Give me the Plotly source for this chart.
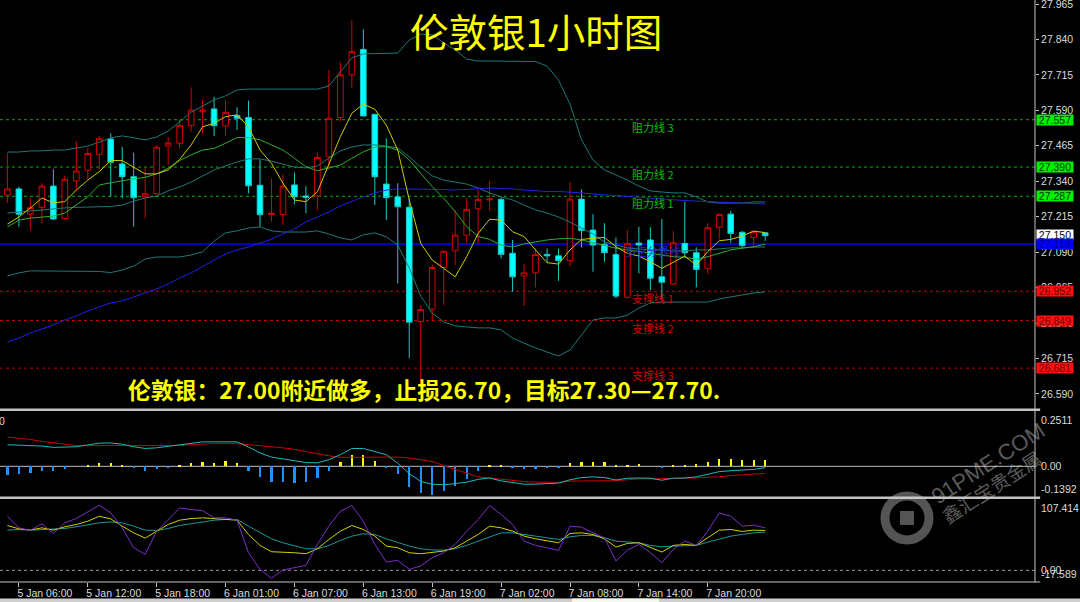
import plotly.graph_objects as go

# ---------------- data ----------------
opens = [27.291, 27.313, 27.224, 27.248, 27.323, 27.209, 27.341, 27.379, 27.435, 27.489,
         27.401, 27.356, 27.285, 27.296, 27.464, 27.474, 27.537, 27.585, 27.595, 27.535,
         27.572, 27.565, 27.326, 27.223, 27.223, 27.327, 27.288, 27.288, 27.426, 27.565,
         27.715, 27.805, 27.576, 27.330, 27.285, 27.248, 26.845, 26.889, 27.036, 27.095,
         27.150, 27.243, 27.274, 27.276, 27.086, 27.006, 27.017, 27.082, 27.077, 27.060,
         27.277, 27.168, 27.118, 27.082, 26.931, 27.122, 27.133, 27.003, 26.978, 27.121,
         27.088, 27.033, 27.178, 27.224, 27.160, 27.142, 27.158]
highs = [27.440, 27.321, 27.283, 27.333, 27.382, 27.358, 27.483, 27.458, 27.501, 27.509,
         27.462, 27.441, 27.388, 27.468, 27.497, 27.556, 27.671, 27.626, 27.638, 27.624,
         27.601, 27.624, 27.417, 27.350, 27.364, 27.371, 27.323, 27.441, 27.732, 27.761,
         27.908, 27.876, 27.576, 27.491, 27.333, 27.280, 26.904, 27.045, 27.097, 27.239,
         27.280, 27.315, 27.342, 27.283, 27.133, 27.048, 27.103, 27.103, 27.103, 27.336,
         27.312, 27.224, 27.192, 27.142, 27.168, 27.180, 27.178, 27.207, 27.165, 27.268,
         27.107, 27.192, 27.227, 27.236, 27.165, 27.168, 27.158]
lows = [27.263, 27.180, 27.168, 27.192, 27.203, 27.207, 27.309, 27.344, 27.382, 27.285,
        27.280, 27.180, 27.209, 27.294, 27.397, 27.456, 27.515, 27.509, 27.499, 27.499,
        27.521, 27.297, 27.180, 27.197, 27.186, 27.259, 27.227, 27.238, 27.382, 27.550,
        27.668, 27.570, 27.256, 27.203, 26.980, 26.716, 26.620, 26.845, 26.904, 27.045,
        27.121, 27.121, 27.235, 27.068, 26.950, 26.901, 26.966, 27.053, 26.989, 27.041,
        27.107, 27.021, 27.056, 26.927, 26.927, 27.015, 26.956, 26.921, 26.974, 27.074,
        26.966, 27.013, 27.135, 27.123, 27.103, 27.103, 27.130]
closes = [27.313, 27.224, 27.247, 27.323, 27.207, 27.347, 27.376, 27.438, 27.490, 27.407,
          27.356, 27.282, 27.296, 27.460, 27.475, 27.537, 27.591, 27.591, 27.536, 27.583,
          27.562, 27.324, 27.222, 27.227, 27.323, 27.285, 27.283, 27.424, 27.562, 27.715,
          27.797, 27.570, 27.356, 27.282, 27.250, 26.843, 26.888, 27.036, 27.093, 27.150,
          27.241, 27.276, 27.277, 27.082, 27.003, 27.017, 27.082, 27.077, 27.060, 27.277,
          27.166, 27.115, 27.088, 26.935, 27.121, 27.115, 26.998, 26.984, 27.123, 27.088,
          27.029, 27.176, 27.223, 27.156, 27.113, 27.162, 27.148]

bb_upper = [27.443, 27.443, 27.447, 27.447, 27.450, 27.450, 27.457, 27.464, 27.478, 27.493,
            27.500, 27.493, 27.486, 27.496, 27.517, 27.549, 27.584, 27.605, 27.627, 27.641,
            27.662, 27.665, 27.665, 27.665, 27.665, 27.665, 27.665, 27.665, 27.676, 27.725,
            27.775, 27.789, 27.791, 27.791, 27.792, 27.838, 27.859, 27.856, 27.828, 27.803,
            27.771, 27.764, 27.764, 27.764, 27.764, 27.764, 27.762, 27.746, 27.697, 27.612,
            27.486, 27.415, 27.380, 27.362, 27.344, 27.323, 27.306, 27.302, 27.299, 27.299,
            27.285, 27.267, 27.263, 27.263, 27.263, 27.267, 27.267]
bb_middle = [27.228, 27.232, 27.235, 27.239, 27.242, 27.246, 27.248, 27.249, 27.249, 27.251,
             27.256, 27.270, 27.281, 27.288, 27.306, 27.320, 27.337, 27.359, 27.380, 27.394,
             27.408, 27.419, 27.419, 27.411, 27.401, 27.390, 27.387, 27.394, 27.422, 27.447,
             27.461, 27.468, 27.468, 27.464, 27.457, 27.426, 27.390, 27.359, 27.344, 27.337,
             27.330, 27.316, 27.299, 27.285, 27.274, 27.256, 27.239, 27.228, 27.214, 27.196,
             27.175, 27.154, 27.126, 27.115, 27.105, 27.101, 27.098, 27.098, 27.094, 27.094,
             27.098, 27.098, 27.101, 27.105, 27.105, 27.108, 27.108]
bb_lower = [27.006, 27.017, 27.024, 27.024, 27.022, 27.022, 27.022, 27.022, 27.022, 27.018,
            27.027, 27.041, 27.066, 27.073, 27.073, 27.073, 27.080, 27.091, 27.129, 27.158,
            27.165, 27.175, 27.179, 27.165, 27.161, 27.161, 27.161, 27.165, 27.154, 27.140,
            27.133, 27.151, 27.158, 27.144, 27.115, 27.034, 26.935, 26.875, 26.844, 26.830,
            26.826, 26.823, 26.823, 26.816, 26.787, 26.770, 26.752, 26.738, 26.724, 26.745,
            26.798, 26.851, 26.858, 26.858, 26.868, 26.893, 26.911, 26.914, 26.914, 26.914,
            26.914, 26.914, 26.925, 26.932, 26.939, 26.946, 26.950]
ma_fast = [27.189, 27.214, 27.246, 27.281, 27.264, 27.268, 27.309, 27.344, 27.374, 27.413,
           27.413, 27.391, 27.366, 27.366, 27.380, 27.417, 27.468, 27.532, 27.544, 27.568,
           27.574, 27.532, 27.450, 27.403, 27.333, 27.274, 27.268, 27.303, 27.403, 27.497,
           27.580, 27.612, 27.594, 27.538, 27.450, 27.274, 27.121, 27.062, 27.033, 27.003,
           27.074, 27.156, 27.206, 27.203, 27.162, 27.145, 27.098, 27.053, 27.048, 27.098,
           27.135, 27.139, 27.142, 27.109, 27.086, 27.076, 27.056, 27.033, 27.056, 27.076,
           27.044, 27.092, 27.130, 27.135, 27.147, 27.164, 27.159]
ma_mid = [27.179, 27.203, 27.210, 27.214, 27.217, 27.228, 27.256, 27.285, 27.327, 27.335,
          27.342, 27.348, 27.354, 27.366, 27.386, 27.413, 27.433, 27.450, 27.456, 27.474,
          27.494, 27.494, 27.486, 27.468, 27.450, 27.421, 27.391, 27.377, 27.386, 27.397,
          27.421, 27.444, 27.460, 27.462, 27.450, 27.415, 27.368, 27.321, 27.280, 27.233,
          27.180, 27.145, 27.135, 27.115, 27.108, 27.119, 27.126, 27.133, 27.137, 27.139,
          27.133, 27.123, 27.115, 27.104, 27.098, 27.092, 27.086, 27.080, 27.074, 27.072,
          27.065, 27.074, 27.086, 27.098, 27.104, 27.109, 27.118]
ma_slow = [26.773, 26.787, 26.805, 26.819, 26.833, 26.851, 26.865, 26.883, 26.897, 26.911,
           26.918, 26.932, 26.946, 26.960, 26.978, 26.999, 27.017, 27.041, 27.062, 27.084,
           27.098, 27.108, 27.122, 27.136, 27.154, 27.172, 27.196, 27.214, 27.232, 27.253,
           27.270, 27.285, 27.299, 27.309, 27.313, 27.313, 27.313, 27.313, 27.311, 27.309,
           27.311, 27.314, 27.316, 27.314, 27.313, 27.309, 27.306, 27.304, 27.304, 27.302,
           27.299, 27.295, 27.292, 27.288, 27.285, 27.283, 27.281, 27.278, 27.274, 27.272,
           27.270, 27.269, 27.267, 27.265, 27.263, 27.262, 27.260]

macd_hist = [-0.038, -0.036, -0.030, -0.020, -0.023, -0.011, 0.0, 0.006, 0.017, 0.014,
             0.006, -0.009, -0.020, -0.014, -0.009, 0.005, 0.016, 0.020, 0.017, 0.022,
             0.014, -0.020, -0.050, -0.072, -0.072, -0.077, -0.072, -0.053, -0.023, 0.020,
             0.053, 0.052, 0.023, -0.009, -0.033, -0.094, -0.123, -0.128, -0.114, -0.091,
             -0.056, -0.022, 0.005, 0.006, -0.009, -0.012, -0.012, -0.009, -0.009, 0.014,
             0.021, 0.021, 0.021, 0.006, 0.008, 0.011, 0.0, -0.009, 0.005, 0.008,
             0.009, 0.021, 0.035, 0.035, 0.030, 0.030, 0.029]
macd_main = [0.098, 0.097, 0.095, 0.092, 0.086, 0.086, 0.089, 0.097, 0.105, 0.106,
             0.100, 0.089, 0.081, 0.084, 0.091, 0.097, 0.103, 0.111, 0.111, 0.111,
             0.111, 0.088, 0.061, 0.042, 0.034, 0.027, 0.017, 0.016, 0.030, 0.053,
             0.081, 0.081, 0.066, 0.053, 0.014, -0.033, -0.069, -0.081, -0.084, -0.078,
             -0.072, -0.059, -0.053, -0.066, -0.075, -0.081, -0.081, -0.077, -0.076, -0.061,
             -0.051, -0.048, -0.051, -0.062, -0.054, -0.053, -0.054, -0.063, -0.054, -0.053,
             -0.048, -0.036, -0.024, -0.020, -0.018, -0.014, -0.006]
macd_signal = [0.133, 0.128, 0.122, 0.113, 0.106, 0.098, 0.094, 0.094, 0.095, 0.095,
               0.095, 0.094, 0.094, 0.094, 0.094, 0.095, 0.098, 0.102, 0.103, 0.103,
               0.103, 0.098, 0.094, 0.089, 0.084, 0.077, 0.067, 0.056, 0.048, 0.041,
               0.041, 0.042, 0.042, 0.042, 0.042, 0.038, 0.030, 0.022, 0.003, -0.013,
               -0.031, -0.048, -0.053, -0.059, -0.064, -0.069, -0.072, -0.073, -0.073, -0.067,
               -0.067, -0.067, -0.067, -0.065, -0.061, -0.057, -0.057, -0.057, -0.056, -0.054,
               -0.053, -0.051, -0.047, -0.042, -0.039, -0.036, -0.032]

kdj_j = [81.5, 64, 60, 70, 55.5, 71.5, 78, 87.5, 98, 86.5,
         64, 34, 24, 59, 76.5, 94, 91.5, 90, 79, 79,
         75.5, 26.5, 1.5, -12, 0.5, 4, 7.5, 39, 66.5, 89,
         97.5, 74, 39, 12.5, 15, 1.5, 6.5, 19, 26.5, 39,
         59, 76.5, 97.5, 84, 69, 44, 37.5, 34, 30, 66.5,
         65, 56.5, 49, 14, 30.5, 39, 26.5, 11.5, 31.5, 44,
         37.5, 59, 86.5, 81.5, 66.5, 68, 64]
kdj_k = [67.5, 62.5, 60.5, 64, 60.5, 65.5, 69, 74, 81.5, 77.5,
         66.5, 56.5, 48.5, 59, 69, 75.5, 78, 79, 77.5, 76.5,
         75.5, 54, 37.5, 28, 27.5, 26.5, 25, 32.5, 46.5, 59,
         67.5, 61.5, 51.5, 36.5, 34, 26.5, 25, 26.5, 29, 34,
         44, 54, 66.5, 64, 59, 51.5, 47.5, 45, 41.5, 55.5,
         56.5, 54, 47.5, 35, 40.5, 41.5, 34, 27.5, 37.5, 39,
         37.5, 49, 60.5, 61.5, 58.5, 60.5, 60]
kdj_d = [60.5, 61.5, 60.5, 61.5, 61.5, 63, 65.5, 68.5, 71.5, 73,
         71.5, 66.5, 60.5, 60, 63, 67.5, 70.5, 73, 75.5, 76.5,
         76.5, 66.5, 56.5, 47.5, 41.5, 36.5, 32.5, 32.5, 37.5, 45,
         51.5, 55, 54, 47.5, 41.5, 36.5, 32.5, 30.5, 30.5, 32.5,
         37.5, 44, 50.5, 56.5, 56.5, 54, 52.5, 50, 46.5, 50.5,
         52.5, 52.5, 49, 44, 42.5, 41.5, 37.5, 35.5, 36.5, 36.5,
         37.5, 42.5, 47.5, 51.5, 54, 56.5, 57.5]

tick_bars = [1, 7, 13, 19, 25, 31, 37, 43, 49, 55, 61]
tick_labels = ["5 Jan 06:00", "5 Jan 12:00", "5 Jan 18:00", "6 Jan 01:00", "6 Jan 07:00",
               "6 Jan 13:00", "6 Jan 19:00", "7 Jan 02:00", "7 Jan 08:00", "7 Jan 14:00",
               "7 Jan 20:00"]
price_ticks = [27.965, 27.840, 27.715, 27.590, 27.465, 27.340, 27.215, 27.090,
               26.965, 26.840, 26.715, 26.590]
resistance_levels = [27.557, 27.390, 27.287]
resistance_names = ["阻力线 3", "阻力线 2", "阻力线 1"]
support_levels = [26.952, 26.849, 26.681]
support_names = ["支撑线 1", "支撑线 2", "支撑线 3"]
pivot_level = 27.119
pivot_name = "多空分界线"
last_price = 27.150
macd_labels = [(0.2511, "0.2511"), (0.0, "0.00"), (-0.1392, "-0.1392")]
kdj_labels = [(107.414, "107.414"), (0.0, "0.00"), (-17.589, "-17.589")]

title_text = "伦敦银1小时图"
advice_text = "伦敦银：27.00附近做多，止损26.70，目标27.30—27.70."

# ---------------- figure ----------------
x = list(range(len(opens)))
XR = [-0.645, 89.5]
AX_FONT = dict(family="Liberation Sans, Arial, sans-serif", size=10.5, color="#dcdcdc")
CJK = "Noto Sans CJK SC, sans-serif"
BB_COL = "#237676"

fig = go.Figure()

fig.add_trace(go.Candlestick(
    x=x, open=opens, high=highs, low=lows, close=closes,
    increasing=dict(line=dict(color="#d40000", width=1), fillcolor="#000000"),
    decreasing=dict(line=dict(color="#1ec8c8", width=1), fillcolor="#00ffff"),
    xaxis="x", yaxis="y", hoverinfo="skip"))

for series, col in [(bb_upper, BB_COL), (bb_middle, BB_COL), (bb_lower, BB_COL),
                    (ma_slow, "#2222e6"), (ma_mid, "#2bb02b"), (ma_fast, "#cccc00")]:
    fig.add_trace(go.Scatter(x=x, y=series, mode="lines", line=dict(color=col, width=1),
                             xaxis="x", yaxis="y", hoverinfo="skip"))

fig.add_trace(go.Bar(x=x, y=macd_hist, width=0.2,
                     marker=dict(color=["#ffff00" if v >= 0 else "#1e90ff" for v in macd_hist],
                                 line=dict(width=0)),
                     xaxis="x2", yaxis="y2", hoverinfo="skip"))
fig.add_trace(go.Scatter(x=x, y=macd_signal, mode="lines", line=dict(color="#c80000", width=1),
                         xaxis="x2", yaxis="y2", hoverinfo="skip"))
fig.add_trace(go.Scatter(x=x, y=macd_main, mode="lines", line=dict(color="#20b8b8", width=1),
                         xaxis="x2", yaxis="y2", hoverinfo="skip"))

for series, col in [(kdj_d, "#1a9898"), (kdj_k, "#d0d000"), (kdj_j, "#7a30c8")]:
    fig.add_trace(go.Scatter(x=x, y=series, mode="lines", line=dict(color=col, width=1),
                             xaxis="x3", yaxis="y3", hoverinfo="skip"))

shapes = []
for lv in resistance_levels:
    shapes.append(dict(type="line", xref="paper", x0=0, x1=1, yref="y", y0=lv, y1=lv,
                       line=dict(color="#00b000", width=1, dash="dot"), layer="below"))
for lv in support_levels:
    shapes.append(dict(type="line", xref="paper", x0=0, x1=1, yref="y", y0=lv, y1=lv,
                       line=dict(color="#c00000", width=1, dash="dot"), layer="below"))
shapes.append(dict(type="line", xref="paper", x0=0, x1=1, yref="y", y0=pivot_level, y1=pivot_level,
                   line=dict(color="#0000ff", width=1.5), layer="below"))
shapes.append(dict(type="line", xref="paper", x0=0, x1=1, yref="y2", y0=0, y1=0,
                   line=dict(color="#bdbdbd", width=1), layer="below"))
shapes.append(dict(type="line", xref="paper", x0=0, x1=1, yref="y3", y0=0, y1=0,
                   line=dict(color="#9a9a9a", width=1, dash="dot"), layer="below"))
# panel separators / borders
for yy, w in [(0.29605, 2.5), (0.14485, 2.5), (0.0, 1.2)]:
    shapes.append(dict(type="line", xref="paper", x0=0, x1=1.005, yref="paper", y0=yy, y1=yy,
                       line=dict(color="#c4c4c4", width=w)))
shapes.append(dict(type="line", xref="paper", x0=1, x1=1, yref="paper", y0=0, y1=1,
                   line=dict(color="#c4c4c4", width=1)))
# bottom status strip
shapes.append(dict(type="rect", xref="paper", x0=-0.01, x1=1.05, yref="paper", y0=-0.0345, y1=-0.0285,
                   line=dict(width=0), fillcolor="#cfcfcf"))
shapes.append(dict(type="rect", xref="paper", x0=0.5527, x1=0.6367, yref="paper", y0=-0.0345, y1=-0.0285,
                   line=dict(width=0), fillcolor="#f4f8f0"))
# watermark logo ring
shapes.append(dict(type="circle", xref="paper", yref="paper",
                   x0=(907 - 22) / 1035, x1=(907 + 22) / 1035,
                   y0=(582 - 518 - 22) / 582, y1=(582 - 518 + 22) / 582,
                   line=dict(color="rgba(200,200,200,0.42)", width=9)))
shapes.append(dict(type="rect", xref="paper", yref="paper",
                   x0=(907 - 7) / 1035, x1=(907 + 7) / 1035,
                   y0=(582 - 518 - 7) / 582, y1=(582 - 518 + 7) / 582,
                   line=dict(width=0), fillcolor="rgba(200,200,200,0.42)"))

ann = []
ann.append(dict(text=title_text, xref="paper", yref="paper", x=0.5179, y=0.948,
                xanchor="center", yanchor="middle",
                showarrow=False, font=dict(family=CJK, size=38.5, color="#ffff00")))
ann.append(dict(text="<b>" + advice_text + "</b>", xref="paper", yref="paper", x=0.4097, y=0.3316,
                xanchor="center", yanchor="middle",
                showarrow=False, font=dict(family=CJK, size=22.8, color="#ffff00")))
name_x = 54.2
for lv, nm in zip(resistance_levels, resistance_names):
    ann.append(dict(text=nm, x=name_x, y=lv, xref="x", yref="y", xanchor="left", yanchor="top",
                    yshift=3, showarrow=False, font=dict(family=CJK, size=11, color="#00c000")))
for lv, nm in zip(support_levels, support_names):
    ann.append(dict(text=nm, x=name_x, y=lv, xref="x", yref="y", xanchor="left", yanchor="top",
                    yshift=3, showarrow=False, font=dict(family=CJK, size=11, color="#d40000")))
ann.append(dict(text=pivot_name, x=53.6, y=pivot_level, xref="x", yref="y", xanchor="left",
                yanchor="top", yshift=3, showarrow=False,
                font=dict(family=CJK, size=11, color="#2828c8")))

def price_box(val, bg, fg):
    return dict(text=f"{val:.3f}", x=1, y=val, xref="paper", yref="y", xanchor="left",
                yanchor="middle", xshift=1, showarrow=False, bgcolor=bg, borderpad=0,
                width=36, height=10, align="center",
                font=dict(family="Liberation Sans, Arial, sans-serif", size=10.5, color=fg))

for lv in resistance_levels:
    ann.append(price_box(lv, "#00f000", "#003300"))
for lv in support_levels:
    ann.append(price_box(lv, "#ff1010", "#700000"))
ann.append(price_box(last_price, "#ffffff", "#000000"))
ann.append(price_box(pivot_level, "#0000ff", "#000090"))

anchors = ["top", "middle", "bottom"]
for (v, t), a in zip(macd_labels, anchors):
    ann.append(dict(text=t, x=1, y=v, xref="paper", yref="y2", xanchor="left", yanchor=a,
                    xshift=4, yshift=(-1 if a == "top" else 0), showarrow=False, font=AX_FONT))
for (v, t), a in zip(kdj_labels, ["top", "middle", "bottom"]):
    ann.append(dict(text=t, x=1, y=v, xref="paper", yref="y3", xanchor="left", yanchor=a,
                    xshift=4, yshift=(-1 if a == "top" else 0), showarrow=False, font=AX_FONT))
ann.append(dict(text="0", x=0, y=0.2511, xref="paper", yref="y2", xanchor="left", yanchor="top",
                xshift=-3, yshift=-2, showarrow=False, font=AX_FONT))
# watermark text
ann.append(dict(text="91PME.COM", xref="paper", yref="paper", x=988 / 1035, y=(582 - 463) / 582,
                xanchor="center", yanchor="middle", showarrow=False, textangle=-33,
                font=dict(family="Liberation Sans, Arial", size=22, color="rgba(205,205,205,0.45)")))
ann.append(dict(text="鑫汇宝贵金属", xref="paper", yref="paper", x=991 / 1035, y=(582 - 486) / 582,
                xanchor="center", yanchor="middle", showarrow=False, textangle=-33,
                font=dict(family=CJK, size=19, color="rgba(205,205,205,0.45)")))

common_x = dict(range=XR, showgrid=False, zeroline=False, showline=False, fixedrange=True)
fig.update_layout(
    width=1080, height=602,
    margin=dict(l=0, r=45, t=0, b=20, pad=0, autoexpand=False),
    paper_bgcolor="#000000", plot_bgcolor="#000000",
    showlegend=False, bargap=0,
    xaxis=dict(**common_x, anchor="y", showticklabels=False, ticks="",
               rangeslider=dict(visible=False)),
    xaxis2=dict(**common_x, anchor="y2", matches="x", showticklabels=False, ticks=""),
    xaxis3=dict(**common_x, anchor="y3", matches="x", tickmode="array", tickvals=tick_bars,
                ticktext=tick_labels, ticks="outside", ticklen=4, tickcolor="#c4c4c4",
                tickfont=AX_FONT, ticklabelshift=26, ticklabelstandoff=-3, automargin=False,
                ticklabeloverflow="allow"),
    yaxis=dict(domain=[0.29897, 1], range=[26.5405, 27.9791], side="right", anchor="x",
               tickmode="array", tickvals=price_ticks, ticktext=[f"{v:.3f}" for v in price_ticks],
               ticks="outside", ticklen=3, tickcolor="#c4c4c4", tickfont=AX_FONT, automargin=False,
               ticklabeloverflow="allow",
               showgrid=False, zeroline=False, showline=False, fixedrange=True),
    yaxis2=dict(domain=[0.14605, 0.29381], range=[-0.1392, 0.2511], anchor="x2",
                showticklabels=False, ticks="", showgrid=False, zeroline=False, fixedrange=True),
    yaxis3=dict(domain=[0, 0.14261], range=[-17.589, 107.414], anchor="x3",
                showticklabels=False, ticks="", showgrid=False, zeroline=False, fixedrange=True),
    shapes=shapes, annotations=ann,
)

fig.write_html("out.html", config={"displayModeBar": False},
               post_script="document.body.style.margin='0px';document.body.style.overflow='hidden';")
